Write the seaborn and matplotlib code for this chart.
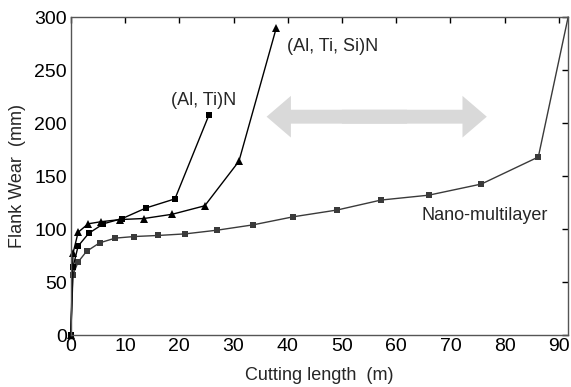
import matplotlib
matplotlib.use("Agg")
import matplotlib.pyplot as plt
import seaborn as sns
from matplotlib.patches import FancyArrowPatch

# cutting length (m) / flank wear readings per coating
alti_x = [0, 0.4, 1.35, 3.3, 6.0, 9.5, 13.9, 19.2, 25.5]
alti_y = [0, 64, 84, 96, 105, 110, 120, 128.5, 208]

altisi_x = [0, 0.4, 1.35, 3.2, 5.6, 9.1, 13.5, 18.7, 24.7, 31.0, 37.9]
altisi_y = [0, 77, 97, 105, 107, 109, 110, 114, 122, 164, 290]

nano_x = [0, 0.4, 1.35, 2.9, 5.3, 8.2, 11.7, 16.1, 21.1, 27.0, 33.6, 41.0,
          49.1, 57.2, 66.0, 75.7, 86.2, 91.7]
nano_y = [0, 57, 69, 79, 87, 91.5, 93, 94, 95.5, 99, 104, 111.6,
          118, 127.4, 132, 142.5, 168, 300]

sns.set_style("white")
plt.rcParams['font.family'] = ['Liberation Sans', 'DejaVu Sans']

fig = plt.figure(figsize=(5.71, 3.87), dpi=100)
ax = fig.add_axes([0.124, 0.134, 0.871, 0.822])

sns.lineplot(x=nano_x, y=nano_y, ax=ax, color="#3a3a3a", marker="s", markersize=4,
             markeredgewidth=0, linewidth=1.0, estimator=None, sort=False,
             markevery=list(range(len(nano_x) - 1)))
sns.lineplot(x=alti_x, y=alti_y, ax=ax, color="black", marker="s", markersize=5,
             markeredgewidth=0, linewidth=1.0, estimator=None, sort=False)
sns.lineplot(x=altisi_x, y=altisi_y, ax=ax, color="black", marker="^", markersize=5.5,
             markeredgewidth=0, linewidth=1.0, estimator=None, sort=False)
for ln in ax.lines:
    ln.set_clip_on(False)

# double headed gray arrow (two halves overlapping in the middle)
for start, tip in ((62, 36.1), (50, 76.7)):
    ax.add_patch(FancyArrowPatch((start, 206), (tip, 206),
                                 arrowstyle="simple,head_length=1.75,head_width=3.0,tail_width=1.0",
                                 mutation_scale=10, color="#d9d9d9", lw=0,
                                 shrinkA=0, shrinkB=0, zorder=1))

ax.text(24.4, 221.5, "(Al, Ti)N", fontsize=13, ha="center", va="center")
ax.text(48.2, 272, "(Al, Ti, Si)N", fontsize=13, ha="center", va="center")
ax.text(76.4, 113, "Nano-multilayer", fontsize=13, ha="center", va="center")

ax.set_xlim(0, 91.7)
ax.set_ylim(0, 300)
ax.set_xticks(range(0, 91, 10))
ax.set_yticks(range(0, 301, 50))
ax.tick_params(direction="in", length=4.5, width=1, top=True, right=True,
               labelsize=14, pad=2, colors="black")
ax.tick_params(axis="y", pad=3)
for s in ax.spines.values():
    s.set_color("#555555")
    s.set_linewidth(1)

ax.set_xlabel("Cutting length  (m)", fontsize=13, labelpad=9)
ax.set_ylabel("Flank Wear  (mm)", fontsize=13, labelpad=6)

fig.savefig("out.png", dpi=100)
